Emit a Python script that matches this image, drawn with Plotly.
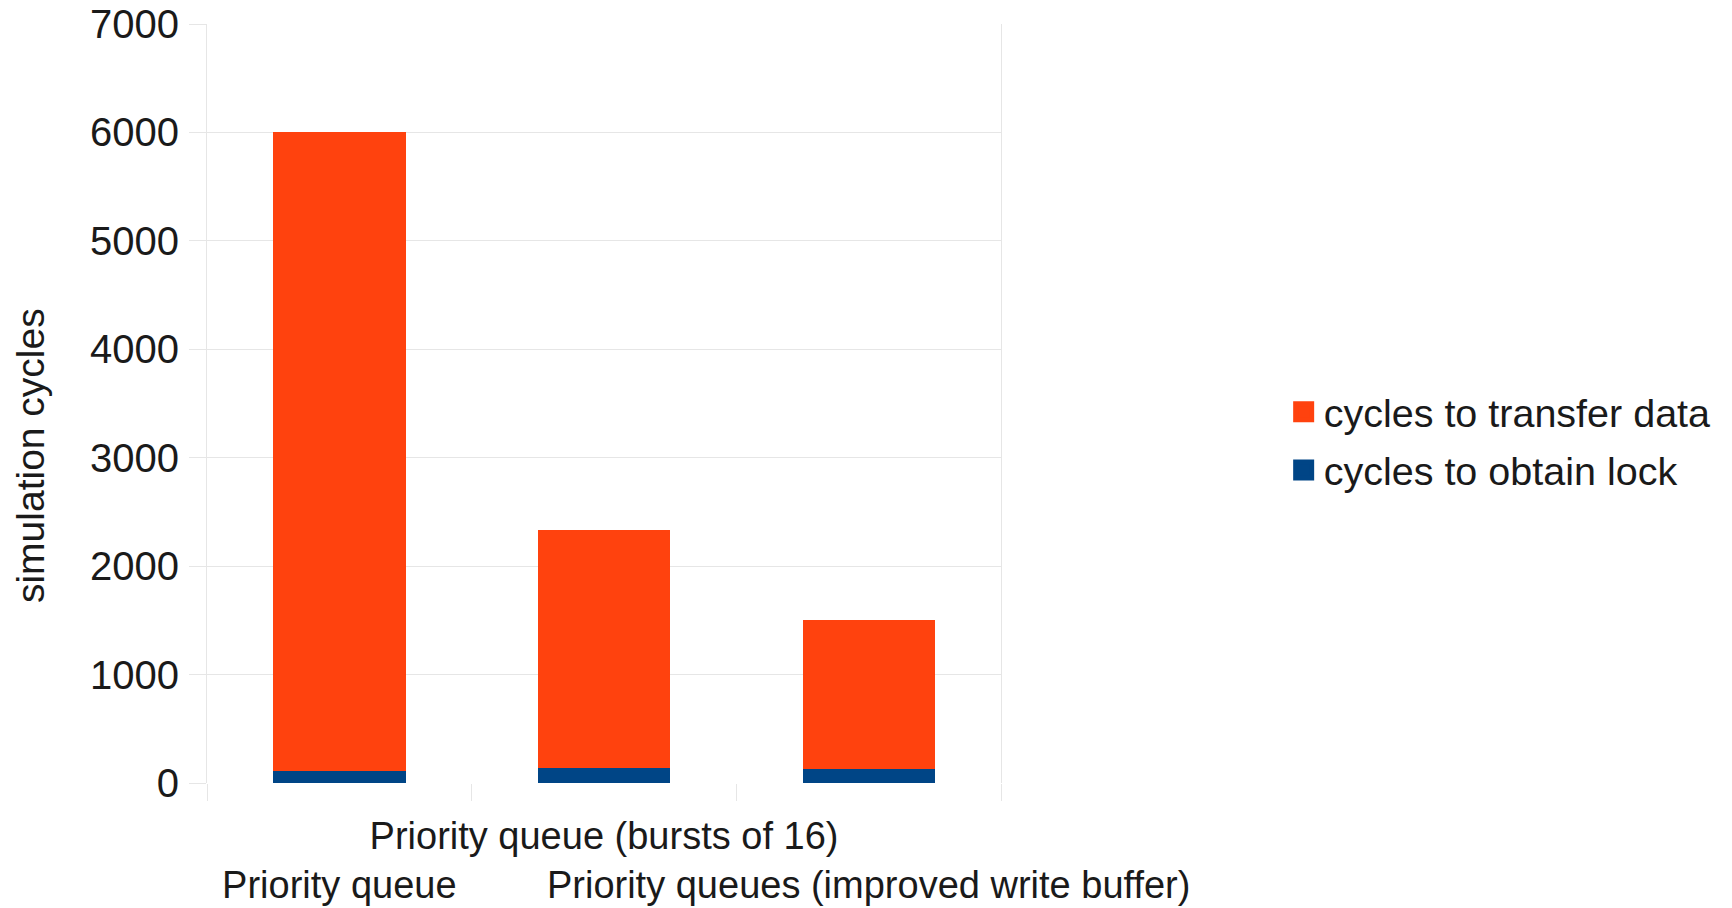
import plotly.graph_objects as go

# Stacked cycle counts per queue configuration
categories = ["pq", "pq16", "pqwb"]
tick_labels = [
    "<br>Priority queue",
    "Priority queue (bursts of 16)<br> ",
    "<br>Priority queues (improved write buffer)",
]
lock_cycles = [107, 138, 132]
transfer_cycles = [5893, 2198, 1368]

series_names = ["cycles to transfer data", "cycles to obtain lock"]
series_colors = ["#FF420E", "#004586"]

FONT = "Liberation Sans, Arial, sans-serif"
TEXT = "#1a1a1a"
GRID = "#e6e6e6"

fig = go.Figure()

fig.add_trace(go.Bar(
    x=categories, y=lock_cycles, name=series_names[1],
    marker=dict(color=series_colors[1], line=dict(width=0)),
    width=0.5, showlegend=False,
))
fig.add_trace(go.Bar(
    x=categories, y=transfer_cycles, name=series_names[0],
    marker=dict(color=series_colors[0], line=dict(width=0)),
    width=0.5, showlegend=False,
))

# Legend entries with larger square swatches
for i, (name, color) in enumerate(zip(series_names, series_colors)):
    fig.add_trace(go.Scatter(
        x=[None], y=[None], mode="markers", name=name,
        legendgroup=f"g{i}", legendrank=i,
        marker=dict(symbol="square", size=16, color=color,
                    line=dict(color=color, width=5)),
    ))

fig.update_layout(
    width=1732, height=908,
    margin=dict(l=207, r=731, t=24, b=125, autoexpand=False),
    paper_bgcolor="white", plot_bgcolor="white",
    barmode="stack",
    font=dict(family=FONT, size=39, color=TEXT),
    showlegend=True,
    legend=dict(
        x=1.356, xanchor="left", y=0.4506, yanchor="middle",
        font=dict(family=FONT, size=39.5, color=TEXT),
        traceorder="grouped", tracegroupgap=4,
        bgcolor="rgba(0,0,0,0)", itemsizing="trace",
    ),
    xaxis=dict(
        type="category", automargin=False,
        tickmode="array", tickvals=categories, ticktext=tick_labels,
        tickangle=0,
        tickson="boundaries", ticks="outside", ticklen=17,
        tickcolor=GRID, tickwidth=1,
        showgrid=False, showline=False, zeroline=False,
        tickfont=dict(family=FONT, size=38, color=TEXT),
        ticklabelstandoff=27,
    ),
    yaxis=dict(
        range=[0, 7000], dtick=1000, tick0=0, automargin=False,
        ticks="outside", ticklen=17, tickcolor=GRID, tickwidth=1,
        showgrid=True, gridcolor=GRID, gridwidth=1,
        showline=True, mirror=True, linecolor=GRID, linewidth=1,
        zeroline=False,
        tickfont=dict(family=FONT, size=40, color=TEXT),
        ticklabelstandoff=2,
    ),
    annotations=[dict(
        text="simulation cycles", textangle=-90,
        xref="paper", yref="paper", x=-0.2229, y=0.4308,
        xanchor="center", yanchor="middle", showarrow=False,
        font=dict(family=FONT, size=39, color=TEXT),
    )],
)

fig.write_html("out.html")
